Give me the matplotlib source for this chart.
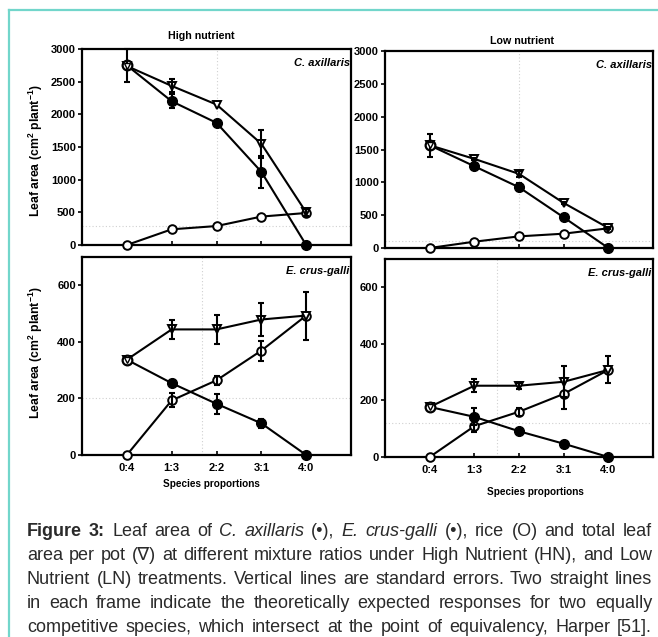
import matplotlib
matplotlib.use('Agg')
import matplotlib.pyplot as plt
from matplotlib.lines import Line2D
import numpy as np

plt.rcParams['font.family'] = ['Liberation Sans', 'DejaVu Sans']
plt.rcParams['mathtext.fontset'] = 'custom'
plt.rcParams['mathtext.rm'] = 'Liberation Sans:bold'
plt.rcParams['mathtext.it'] = 'Liberation Sans:bold:italic'
plt.rcParams['mathtext.bf'] = 'Liberation Sans:bold'

# ---------------- data ----------------
proportions = ['0:4', '1:3', '2:2', '3:1', '4:0']

# High nutrient, C. axillaris
hn_ca_weed = [2750, 2200, 1870, 1120, 0]
hn_ca_weed_se = [250, 110, 0, 245, 0]
hn_ca_rice = [0, 240, 290, 435, 490]
hn_ca_rice_se = [0, 0, 0, 0, 0]
hn_ca_total = [2740, 2435, 2150, 1550, 500]
hn_ca_total_se = [0, 100, 0, 215, 50]

# Low nutrient, C. axillaris
ln_ca_weed = [1565, 1245, 925, 467, 0]
ln_ca_weed_se = [175, 30, 60, 0, 0]
ln_ca_rice = [0, 96, 177, 218, 300]
ln_ca_rice_se = [0, 0, 0, 0, 0]
ln_ca_total = [1565, 1357, 1129, 686, 305]
ln_ca_total_se = [0, 20, 50, 20, 20]

# High nutrient, E. crus-galli
hn_ec_weed = [337, 254, 181, 112, 0]
hn_ec_weed_se = [0, 10, 35, 15, 0]
hn_ec_rice = [0, 193, 264, 369, 493]
hn_ec_rice_se = [0, 25, 15, 35, 85]
hn_ec_total = [337, 444, 444, 479, 493]
hn_ec_total_se = [0, 35, 50, 60, 0]

# Low nutrient, E. crus-galli
ln_ec_weed = [177, 142, 91, 47, 0]
ln_ec_weed_se = [0, 30, 0, 0, 0]
ln_ec_rice = [0, 109, 160, 223, 308]
ln_ec_rice_se = [0, 22, 15, 55, 48]
ln_ec_total = [177, 252, 252, 266, 308]
ln_ec_total_se = [0, 22, 10, 55, 0]

# faint dotted reference lines (horizontal value, vertical position)
ref_h = {'hn_ca': 290, 'ln_ca': 100, 'hn_ec': 200, 'ln_ec': 120}
ref_v = {'hn_ca': 3.0, 'ln_ca': 3.0, 'hn_ec': 2.67, 'ln_ec': 2.5}

# ---------------- figure ----------------
W, H = 658, 637
fig = plt.figure(figsize=(W / 100, H / 100), dpi=100)
fig.patch.set_facecolor('white')


def add_ax(x0, y0, x1, y1):
    return fig.add_axes([x0 / W, 1 - y1 / H, (x1 - x0) / W, (y1 - y0) / H])


ax_tl = add_ax(82, 49, 351, 245)
ax_tr = add_ax(385, 51, 653, 248)
ax_bl = add_ax(82, 257, 351, 455)
ax_br = add_ax(385, 259, 653, 457)

x = np.arange(1, len(proportions) + 1)
LW = 1.5
MS = 6.2


def draw(ax, weed, weed_se, rice, rice_se, total, total_se, key, ylim, yticks, species, xlabels):
    ax.axhline(ref_h[key], color='#d0d0d0', lw=0.8, ls=(0, (1, 2)), zorder=0)
    ax.axvline(ref_v[key], color='#d0d0d0', lw=0.8, ls=(0, (1, 2)), zorder=0)

    def eb(vals, se, z):
        idx = [i for i, s in enumerate(se) if s > 0]
        if idx:
            ax.errorbar(x[idx], np.array(vals)[idx], yerr=np.array(se)[idx], fmt='none',
                        ecolor='black', elinewidth=1.5, capsize=2.3, capthick=1.5, zorder=z)

    # rice (open circles)
    ax.plot(x, rice, color='black', lw=LW, marker='o', ms=MS, mfc='white', mec='black', mew=1.4, zorder=3)
    eb(rice, rice_se, 3)
    # total (open triangles)
    ax.plot(x, total, color='black', lw=LW, marker='v', ms=MS, mfc='white', mec='black', mew=1.4, zorder=4)
    eb(total, total_se, 4)
    # weed (filled circles)
    ax.plot(x, weed, color='black', lw=LW, zorder=2)
    ax.plot(x[1:], weed[1:], ls='none', marker='o', ms=MS + 0.8, mfc='black', mec='black', zorder=5)
    ax.plot(x[:1], weed[:1], ls='none', marker='o', ms=MS + 0.8, mfc='white', mec='black', mew=1.6, zorder=5)
    ax.plot(x[:1], total[:1], ls='none', marker='v', ms=MS - 1.5, mfc='white', mec='black', mew=1.0, zorder=6)
    eb(weed, weed_se, 5)

    ax.set_xlim(0, 6)
    ax.set_ylim(*ylim)
    ax.set_yticks(yticks)
    ax.set_xticks(x)
    for s in ax.spines.values():
        s.set_linewidth(1.6)
    ax.tick_params(axis='y', direction='out', length=3, width=1.2, pad=1.5, labelsize=8)
    ax.tick_params(axis='x', direction='in', length=3, width=1.2, pad=6, labelsize=8)
    for lab in ax.get_yticklabels():
        lab.set_fontweight('bold')
    if xlabels:
        ax.set_xticklabels(proportions, fontweight='bold')
    else:
        ax.set_xticklabels([])
    ax.text(0.995, 0.955, species, transform=ax.transAxes, ha='right', va='top',
            fontsize=8, fontweight='bold', style='italic')


draw(ax_tl, hn_ca_weed, hn_ca_weed_se, hn_ca_rice, hn_ca_rice_se, hn_ca_total, hn_ca_total_se,
     'hn_ca', (0, 3000), range(0, 3001, 500), 'C. axillaris', False)
draw(ax_tr, ln_ca_weed, ln_ca_weed_se, ln_ca_rice, ln_ca_rice_se, ln_ca_total, ln_ca_total_se,
     'ln_ca', (0, 3000), range(0, 3001, 500), 'C. axillaris', False)
draw(ax_bl, hn_ec_weed, hn_ec_weed_se, hn_ec_rice, hn_ec_rice_se, hn_ec_total, hn_ec_total_se,
     'hn_ec', (0, 700), range(0, 601, 200), 'E. crus-galli', True)
draw(ax_br, ln_ec_weed, ln_ec_weed_se, ln_ec_rice, ln_ec_rice_se, ln_ec_total, ln_ec_total_se,
     'ln_ec', (0, 700), range(0, 601, 200), 'E. crus-galli', True)

for a in (ax_tl, ax_tr, ax_bl, ax_br):
    for l in a.lines:
        l.set_clip_on(False)
    for c in a.collections:
        c.set_clip_on(False)


def ftext(xp, yp, s, **kw):
    return fig.text(xp / W, 1 - yp / H, s, **kw)


ftext(201, 36, 'High nutrient', ha='center', va='center', fontsize=7.7, fontweight='bold')
ftext(522, 41, 'Low nutrient', ha='center', va='center', fontsize=7.7, fontweight='bold')
ylab = r'Leaf area (cm$^{\mathrm{2}}$ plant$^{\mathrm{-1}}$)'
ftext(36, 151, ylab, ha='center', va='center', rotation=90, fontsize=8.8, fontweight='bold')
ftext(36, 353, ylab, ha='center', va='center', rotation=90, fontsize=8.8, fontweight='bold')
ftext(211, 484, 'Species proportions', ha='center', va='center', fontsize=7.2, fontweight='bold')
ftext(535, 492, 'Species proportions', ha='center', va='center', fontsize=7.2, fontweight='bold')

# teal frame
teal = '#72d6cb'
fig.add_artist(Line2D([9 / W, 1], [1 - 10 / H, 1 - 10 / H], transform=fig.transFigure, color=teal, lw=1.6))
fig.add_artist(Line2D([9 / W, 9 / W], [0, 1 - 10 / H], transform=fig.transFigure, color=teal, lw=1.6))

# caption, justified
caption_lines = [
    [('Figure 3:', 'bold'), ('Leaf area of', 'normal'), ('C. axillaris', 'italic'), ('(\u2022),', 'normal'),
     ('E. crus-galli', 'italic'), ('(\u2022), rice (O) and total leaf', 'normal')],
    [('area per pot (\u2207) at different mixture ratios under High Nutrient (HN), and Low', 'normal')],
    [('Nutrient (LN) treatments. Vertical lines are standard errors. Two straight lines', 'normal')],
    [('in each frame indicate the theoretically expected responses for two equally', 'normal')],
    [('competitive species, which intersect at the point of equivalency, Harper [51].', 'normal')],
]
baselines = [536, 560, 584, 608, 632]
X0, X1 = 27, 652
renderer = fig.canvas.get_renderer()


def make_words(segs):
    out = []
    for seg, st in segs:
        for w in seg.split():
            out.append((w, st))
    return out


def style_kw(st, fs):
    kw = dict(fontsize=fs, color='#2a2a2a', va='baseline', ha='left')
    if st == 'bold':
        kw['fontweight'] = 'bold'
    elif st == 'italic':
        kw['style'] = 'italic'
    return kw


# measure natural widths at a base size to choose font size
base = 10.0
probe = ftext(0, 0, 'a b', fontsize=base)
w_ab = probe.get_window_extent(renderer).width
probe.set_text('ab')
w_nospace = probe.get_window_extent(renderer).width
space_w = w_ab - w_nospace
probe.remove()
nat = []
for segs in caption_lines:
    words = make_words(segs)
    tw = 0
    for w, st in words:
        t = ftext(0, 0, w, **style_kw(st, base))
        tw += t.get_window_extent(renderer).width
        t.remove()
    nat.append(tw + space_w * (len(words) - 1))
fs = base * (X1 - X0) / max(nat) * 0.985

for segs, yb in zip(caption_lines, baselines):
    words = make_words(segs)
    objs = []
    total_w = 0
    for w, st in words:
        t = ftext(0, yb, w, **style_kw(st, fs))
        wd = t.get_window_extent(renderer).width
        objs.append((t, wd))
        total_w += wd
    gap = (X1 - X0 - total_w) / max(len(objs) - 1, 1)
    xp = X0
    for t, wd in objs:
        t.set_x(xp / W)
        xp += wd + gap

fig.savefig('out.png', dpi=100, facecolor='white')
